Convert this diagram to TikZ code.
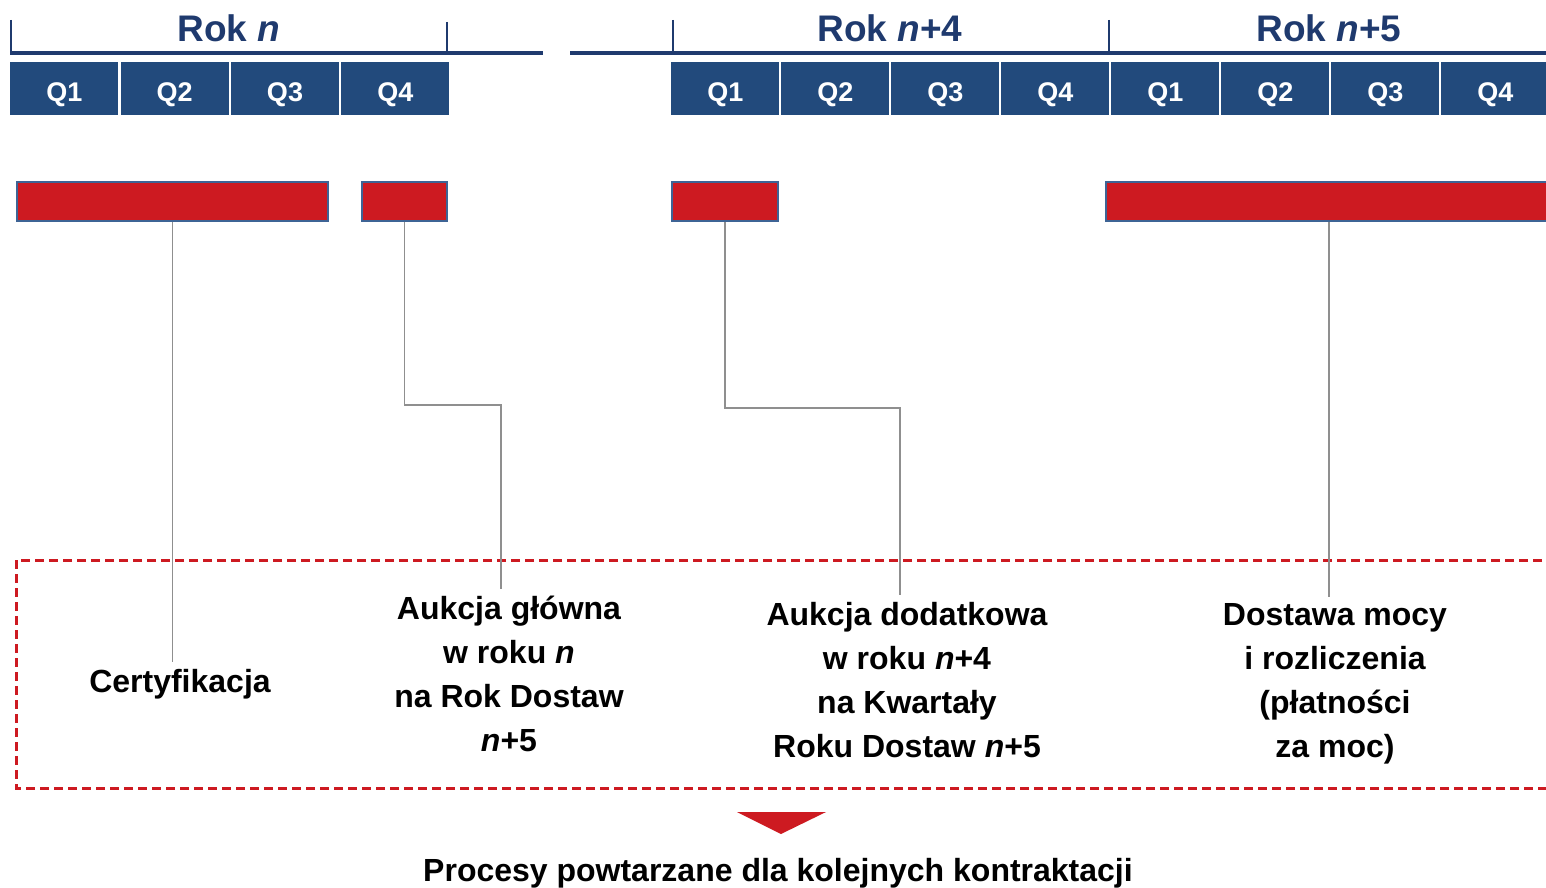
\documentclass[tikz,border=0pt]{standalone}
\usepackage{fontspec}
\setmainfont{Liberation Sans}
\definecolor{rokblue}{HTML}{1F3A6E}
\definecolor{qblue}{HTML}{224A7C}
\definecolor{barred}{HTML}{CD1A21}
\definecolor{barframe}{HTML}{3E6495}
\definecolor{leadgray}{HTML}{8F8F8F}
\tikzset{
  quarter/.style={fill=qblue,text=white,anchor=north west,inner sep=0pt,
    minimum width=54pt,minimum height=26.5pt,text height=13pt,text depth=0pt,
    font=\fontsize{13.5}{16}\selectfont\bfseries},
  year/.style={text=rokblue,font=\fontsize{18.5}{22}\selectfont\bfseries},
  bar/.style={fill=barred,draw=barframe,line width=1pt,anchor=north west,
    inner sep=0pt,minimum height=19.5pt},
  stage/.style={align=center,font=\fontsize{16}{22}\selectfont\bfseries},
  lead/.style={draw=leadgray,line width=0.8pt}
}
\begin{document}
\begin{tikzpicture}[x=0.5pt,y=-0.5pt]
  \useasboundingbox (0,0) rectangle (1546,888);
  \clip (0,0) rectangle (1546,888);
  % timeline
  \draw[rokblue,line width=2pt] (10,53) -- (543,53);
  \draw[rokblue,line width=2pt] (570,53) -- (1546,53);
  \draw[rokblue,line width=1.3pt] (11,20) -- (11,53);
  \draw[rokblue,line width=1.3pt] (447,22) -- (447,53);
  \draw[rokblue,line width=1.3pt] (673,20) -- (673,53);
  \draw[rokblue,line width=1.3pt] (1109,20) -- (1109,53);
  \node[year] (yn) at (229,28) {Rok \textit{n}};
  \node[year] (yn4) at (890,28) {Rok \textit{n}+4};
  \node[year] (yn5) at (1329,28) {Rok \textit{n}+5};
  \foreach \i in {1,...,4}
    \node[quarter] (qa\i) at ({10+110.3*(\i-1)},62) {Q\i};
  \foreach \i in {1,...,8}{
    \pgfmathtruncatemacro{\q}{mod(\i-1,4)+1}
    \node[quarter] (qb\i) at ({671+110*(\i-1)},62) {Q\q};
  }
  % bars
  \node[bar,minimum width=155.5pt] (cert) at (16,181) {};
  \node[bar,minimum width=42.5pt] (main) at (361,181) {};
  \node[bar,minimum width=53pt] (extra) at (671,181) {};
  \node[bar,minimum width=223pt] (supply) at (1105,181) {};
  % stages
  \draw[barred,line width=1.5pt,dash pattern=on 4.5pt off 2.5pt] (16,560) rectangle (1580,788);
  \node[stage] (certtxt) at (180,684) {Certyfikacja};
  \node[stage] (maintxt) at (509,674) {Aukcja główna\\w roku \textit{n}\\na Rok Dostaw\\\textit{n}+5};
  \node[stage] (extratxt) at (907,680) {Aukcja dodatkowa\\w roku \textit{n}+4\\na Kwartały\\Roku Dostaw \textit{n}+5};
  \node[stage] (supplytxt) at (1335,684) {Dostawa mocy\\i rozliczenia\\(płatności\\za moc)};
  \draw[lead] (cert.south) -- (cert.south |- certtxt.north);
  \draw[lead] (main.south) -- ++(0,183) -| ([xshift=-4pt]maintxt.north);
  \draw[lead] (extra.south) -- ++(0,186) -| ([xshift=-3.5pt]extratxt.north);
  \draw[lead] (supply.south) -- (supply.south |- supplytxt.north);
  \fill[barred] (737,812) -- (826,812) -- (781,834) -- cycle;
  \node[stage] (repeat) at (778,873) {Procesy powtarzane dla kolejnych kontraktacji};
\end{tikzpicture}
\end{document}
